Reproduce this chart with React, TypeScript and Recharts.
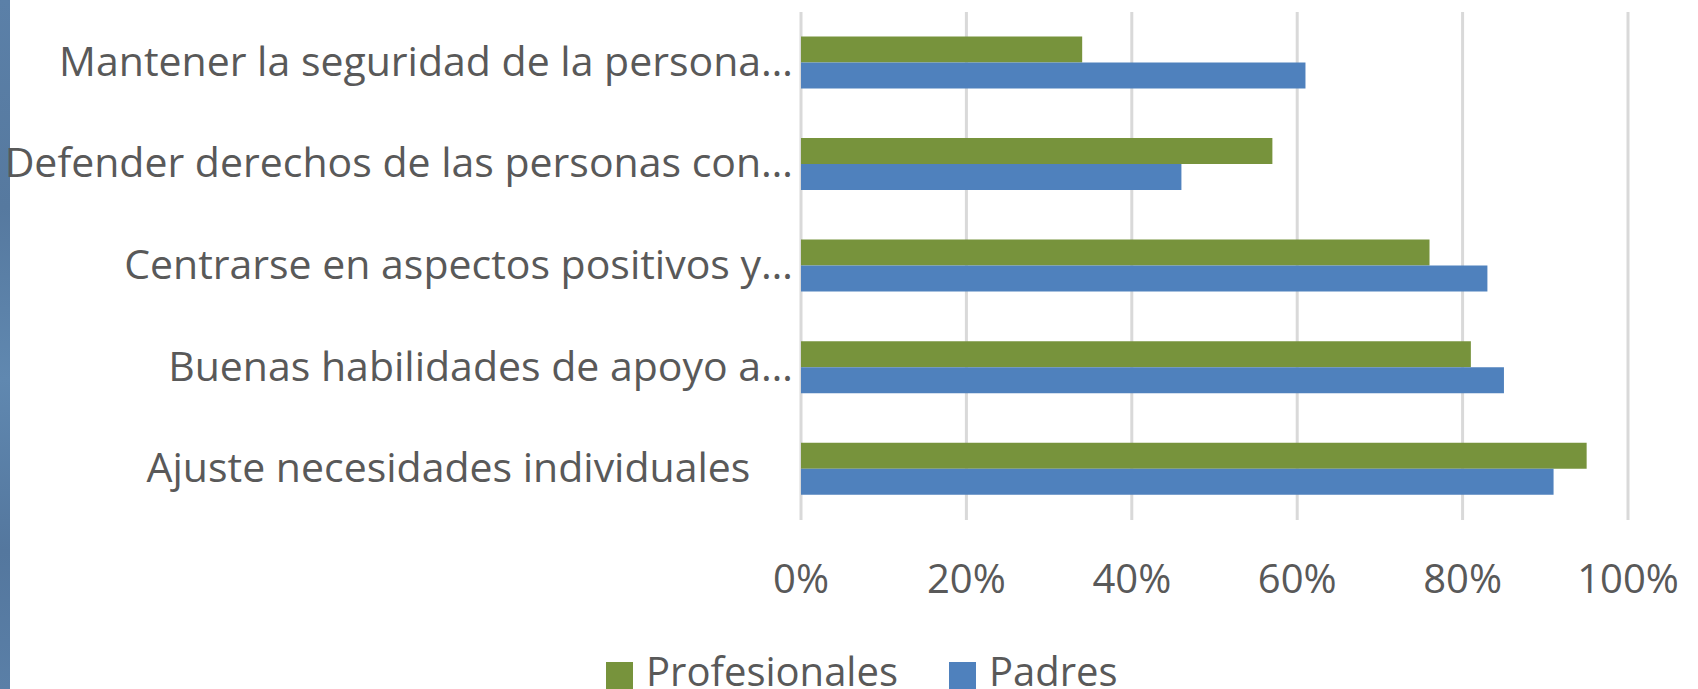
import React from "react";
import { Bar, BarChart, CartesianGrid, Legend, XAxis, YAxis } from "recharts";

const categories = [
  "Mantener la seguridad de la persona…",
  "Defender derechos de las personas con…",
  "Centrarse en aspectos positivos y…",
  "Buenas habilidades de apoyo a…",
  "Ajuste necesidades individuales    ",
];
const profesionales = [34, 57, 76, 81, 95];
const padres = [61, 46, 83, 85, 91];
const xTicks = [0, 20, 40, 60, 80, 100];

const GREEN = "#77933C";
const BLUE = "#4F81BD";
const TEXT = "#595959";
const FONT = "'Open Sans', sans-serif";

const data = categories.map((name, i) => ({
  name,
  profesionales: profesionales[i],
  padres: padres[i],
}));

function YTick({ x, y, payload }: any) {
  return (
    <text
      x={x}
      y={y}
      dy={13}
      textAnchor="end"
      fill={TEXT}
      fontSize={41}
      fontFamily={FONT}
      style={{ whiteSpace: "pre" }}
    >
      {payload.value}
    </text>
  );
}

function XTick({ x, y, payload }: any) {
  return (
    <text x={x} y={y} dy={73} textAnchor="middle" fill={TEXT} fontSize={40} fontFamily={FONT}>
      {payload.value}%
    </text>
  );
}

function LegendContent() {
  const items = [
    { label: "Profesionales", color: GREEN },
    { label: "Padres", color: BLUE },
  ];
  return (
    <div style={{ display: "flex", alignItems: "center", fontFamily: FONT, fontSize: 40, lineHeight: "40px", color: TEXT }}>
      {items.map((it, i) => (
        <div key={it.label} style={{ display: "flex", alignItems: "center", marginLeft: i === 0 ? 0 : 51 }}>
          <span style={{ width: 27, height: 27, background: it.color, marginRight: 13, marginTop: 8, display: "inline-block" }} />
          <span>{it.label}</span>
        </div>
      ))}
    </div>
  );
}

export default function App() {
  return (
    <div style={{ position: "relative", width: 1698, height: 689, overflow: "hidden", background: "#fff" }}>
      <style>{"body{margin:0}"}</style>
      <div
        style={{
          position: "absolute",
          left: 0,
          top: 0,
          width: 10,
          height: 689,
          background: "linear-gradient(180deg,#5b80a8 0%,#56799f 30%,#6088b0 55%,#54779e 80%,#5a7fa7 100%)",
        }}
      />
      <BarChart
        width={1698}
        height={689}
        data={data}
        layout="vertical"
        margin={{ top: 12, right: 70, bottom: 69, left: 0 }}
        barCategoryGap="24%"
        barGap={0}
      >
        <CartesianGrid horizontal={false} stroke="#d9d9d9" strokeWidth={3} />
        <XAxis
          type="number"
          domain={[0, 100]}
          ticks={xTicks}
          axisLine={false}
          tickLine={false}
          tickSize={0}
          tickMargin={0}
          height={100}
          tick={<XTick />}
        />
        <YAxis
          type="category"
          dataKey="name"
          width={801}
          axisLine={false}
          tickLine={false}
          tickSize={0}
          tickMargin={8}
          interval={0}
          tick={<YTick />}
        />
        <Legend
          verticalAlign="middle"
          align="center"
          content={<LegendContent />}
          wrapperStyle={{ top: 651, left: 606, width: "auto" }}
        />
        <Bar dataKey="profesionales" name="Profesionales" fill={GREEN} isAnimationActive={false} />
        <Bar dataKey="padres" name="Padres" fill={BLUE} isAnimationActive={false} />
      </BarChart>
    </div>
  );
}
